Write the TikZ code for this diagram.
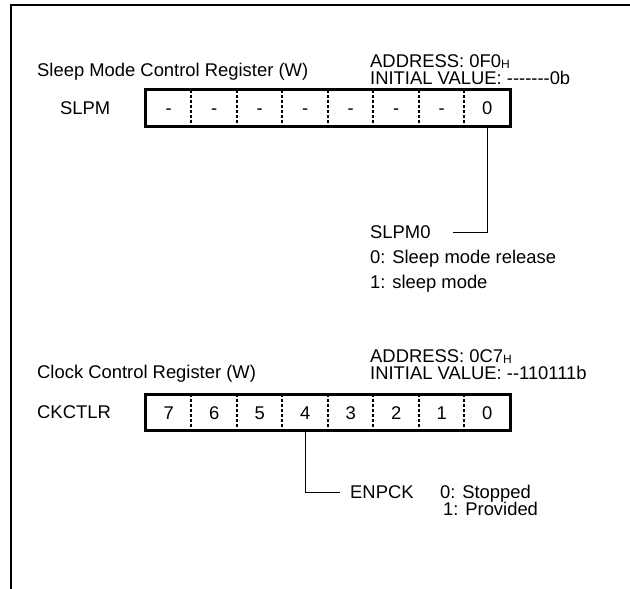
\documentclass[tikz,border=0pt]{standalone}
\usepackage{fontspec}
\setmainfont{Liberation Sans}
\begin{document}
\begin{tikzpicture}[x=1pt,y=-1pt,
  font=\fontsize{18.4}{21}\selectfont,
  lbl/.style={anchor=base west, inner sep=0pt},
  addr/.style={anchor=north west, inner sep=0pt, align=left},
  cell/.style={minimum width=45.5pt, minimum height=36pt, inner sep=0pt, text height=13pt, text depth=0pt},
  regbox/.style={draw, line width=2.8pt},
  divider/.style={line width=1.7pt, dash pattern=on 3pt off 2pt},
  lead/.style={line width=1pt},
  frame/.style={line width=2.8pt}]
\newcommand{\hsub}{\raisebox{-0.2ex}{\fontsize{12}{12}\selectfont H}}
\useasboundingbox (0,0) rectangle (630,589);
\draw[frame] (11,589) -- (11,5) -- (630,5);

% Sleep mode register
\node[lbl] (t1) at (37,76.5) {Sleep Mode Control Register (W)};
\node[addr] (a1) at (370,54) {ADDRESS: 0F0\hsub\\[-3.5pt]INITIAL VALUE: -{}-{}-{}-{}-{}-{}-0b};
\node[lbl] (n1) at (60,114.5) {SLPM};
\foreach \t [count=\k from 0] in {-,-,-,-,-,-,-,0}
  \node[cell] (s\k) at ({168.75+45.5*\k},108) {\t};
\draw[regbox] (s0.north west) rectangle (s7.south east);
\foreach \k in {1,...,7}
  \draw[divider] (s\k.north west) -- (s\k.south west);
\node[lbl] (slpm0) at (370,238.5) {SLPM0};
\node[lbl] (d10) at (370,263.5) {0: Sleep mode release};
\node[lbl] (d11) at (370,288.5) {1: sleep mode};
\coordinate (l0) at (453,232);
\draw[lead] (s7.south) |- (l0);

% Clock control register
\node[lbl] (t2) at (37,378.5) {Clock Control Register (W)};
\node[addr] (a2) at (370,349) {ADDRESS: 0C7\hsub\\[-3.5pt]INITIAL VALUE: -{}-110111b};
\node[lbl] (n2) at (37,418.5) {CKCTLR};
\foreach \t [count=\k from 0] in {7,6,5,4,3,2,1,0}
  \node[cell] (c\k) at ({168.75+45.5*\k},412.5) {\t};
\draw[regbox] (c0.north west) rectangle (c7.south east);
\foreach \k in {1,...,7}
  \draw[divider] (c\k.north west) -- (c\k.south west);
\node[lbl] (enpck) at (350,498.5) {ENPCK};
\node[addr] (d2) at (440,485) {0: Stopped\\[-4pt]\hspace{3pt}1: Provided};
\coordinate (l1) at (340,492);
\draw[lead] (c3.south) |- (l1);
\end{tikzpicture}
\end{document}
